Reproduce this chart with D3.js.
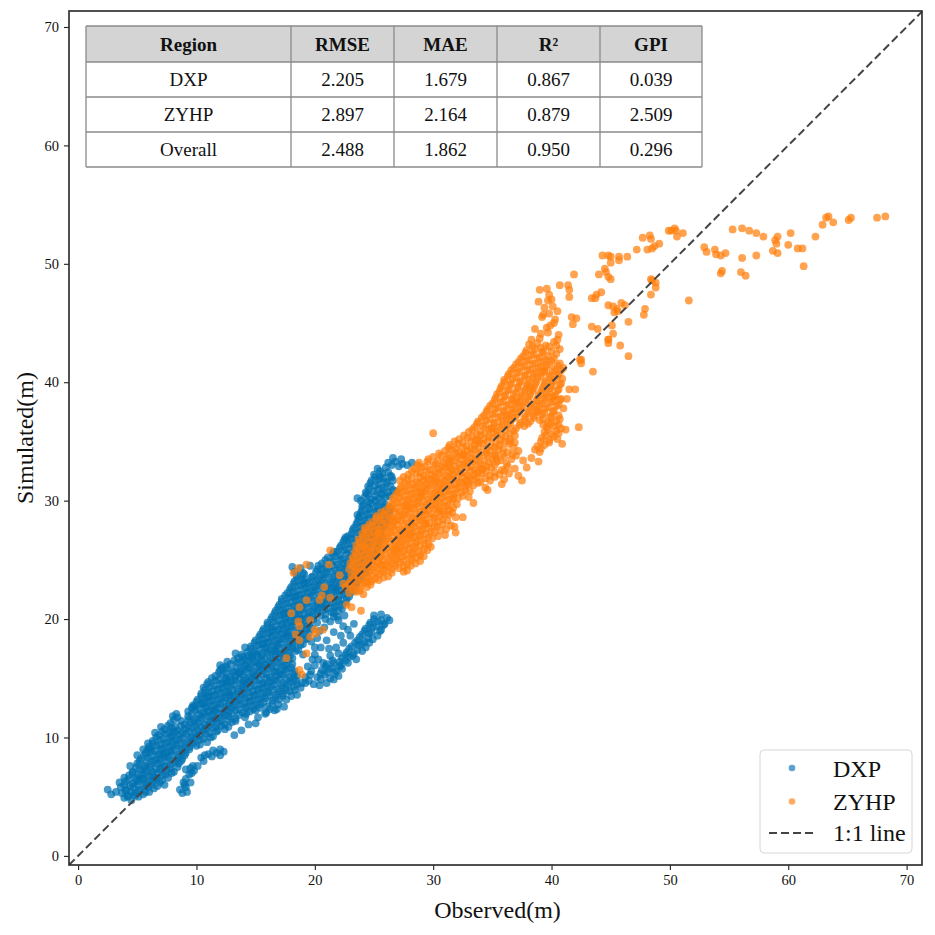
<!DOCTYPE html>
<html lang="en">
<head>
<meta charset="utf-8">
<script src="https://d3js.org/d3.v7.min.js"></script>
<title>Observed vs Simulated</title>
<style>
  body { margin: 0; background: #fff; }
  text { font-family: "Liberation Serif", "Times New Roman", serif; }
</style>
</head>
<body>
<div id="chart"></div>
<script>
// ---- data: [observed, simulated] ----
const dxp = [
  [3.9,4.9],[4.5,4.7],[5.1,5.0],[4.2,5.0],[4.8,5.1],
  [2.8,5.2],[3.7,5.3],[4.2,5.1],[4.8,5.3],[5.5,5.2],[6.0,5.4],[9.2,5.4],
  [3.2,5.4],[4.0,5.5],[4.5,5.4],[5.1,5.5],[5.7,5.4],[8.8,5.3],
  [2.5,5.6],[3.6,5.8],[4.1,5.6],[4.7,5.8],[5.3,5.6],[5.9,5.8],[6.4,5.7],[8.6,5.6],[9.1,5.8],
  [3.9,6.0],[4.4,5.9],[5.0,6.0],[5.6,5.9],[6.2,6.0],[6.7,5.9],[9.0,6.0],
  [4.0,6.3],[4.6,6.1],[5.1,6.3],[5.7,6.1],[6.3,6.3],[6.9,6.2],[7.3,6.0],[8.9,6.2],
  [4.3,6.5],[4.9,6.4],[5.4,6.5],[6.0,6.4],[6.6,6.5],[7.1,6.4],[9.1,6.5],
  [4.3,6.8],[4.9,6.6],[5.4,6.8],[6.0,6.7],[6.5,6.6],[7.1,6.8],[7.6,6.6],[9.4,6.9],
  [4.6,7.0],[5.1,6.9],[5.7,7.0],[6.3,6.9],[6.8,7.0],[7.4,6.9],[7.9,7.0],[9.6,7.0],
  [4.6,7.1],[5.2,7.3],[5.8,7.2],[6.3,7.1],[6.9,7.3],[7.5,7.2],[8.1,7.1],[9.1,7.3],[9.8,7.2],
  [4.9,7.5],[5.5,7.4],[6.1,7.5],[6.6,7.4],[7.2,7.5],[7.8,7.4],[8.4,7.5],[9.5,7.4],
  [5.0,7.8],[5.6,7.6],[6.1,7.7],[6.7,7.8],[7.3,7.6],[7.8,7.7],[8.5,7.8],[10.1,7.6],
  [5.2,8.0],[5.8,7.9],[6.4,8.0],[7.0,7.9],[7.6,8.0],[8.2,7.9],[8.7,8.0],
  [5.3,8.2],[5.9,8.3],[6.5,8.1],[7.0,8.2],[7.6,8.3],[8.2,8.1],[8.8,8.2],[10.4,8.3],
  [5.6,8.5],[6.2,8.4],[6.8,8.5],[7.3,8.4],[7.9,8.5],[8.5,8.4],[9.0,8.5],[10.7,8.5],
  [5.7,8.7],[6.2,8.8],[6.8,8.6],[7.4,8.7],[7.9,8.8],[8.5,8.6],[9.1,8.7],[11.0,8.6],[11.7,8.7],[12.3,8.8],
  [5.9,9.0],[6.5,8.9],[7.1,9.0],[7.7,8.9],[8.2,9.0],[8.8,8.9],[9.4,9.0],[11.4,8.9],[12.0,9.0],
  [6.0,9.2],[6.6,9.3],[7.1,9.1],[7.7,9.2],[8.3,9.3],[8.8,9.1],[9.4,9.2],[10.0,9.3],
  [6.3,9.5],[6.9,9.4],[7.4,9.5],[8.0,9.4],[8.6,9.5],[9.1,9.4],[9.7,9.5],[10.3,9.4],
  [6.3,9.7],[6.9,9.8],[7.5,9.6],[8.0,9.7],[8.6,9.8],[9.2,9.6],[9.7,9.7],[10.3,9.8],[10.9,9.6],
  [6.6,10.0],[7.2,9.9],[7.8,10.0],[8.3,9.9],[8.9,10.0],[9.5,9.9],[10.0,10.0],[10.6,9.9],[11.2,10.0],
  [6.8,10.2],[7.4,10.3],[7.9,10.1],[8.5,10.2],[9.1,10.3],[9.6,10.1],[10.2,10.2],[10.8,10.3],[11.4,10.1],
  [7.1,10.5],[7.7,10.4],[8.2,10.5],[8.8,10.4],[9.4,10.5],[9.9,10.4],[10.5,10.5],[11.1,10.4],[11.7,10.5],
  [7.3,10.7],[7.9,10.8],[8.4,10.6],[9.0,10.7],[9.6,10.8],[10.1,10.6],[10.7,10.7],[11.3,10.8],[11.8,10.6],[12.4,10.7],
  [7.6,11.0],[8.2,10.9],[8.7,11.0],[9.3,10.9],[9.9,11.0],[10.4,10.9],[11.0,11.0],[11.6,10.9],[12.1,11.0],[12.7,10.9],
  [7.8,11.2],[8.4,11.7],[9.0,11.1],[9.5,11.3],[10.1,11.2],[10.7,11.1],[11.2,11.3],[11.8,11.2],[12.4,11.1],[13.0,11.3],
  [8.1,11.5],[8.7,11.4],[9.3,11.5],[9.8,11.4],[10.4,11.5],[11.0,11.4],[11.5,11.5],[12.1,11.4],[12.7,11.5],[13.3,11.4],
  [9.3,11.8],[9.9,11.6],[10.4,11.7],[11.0,11.8],[11.6,11.6],[12.1,11.7],[12.7,11.8],[13.3,11.6],
  [9.6,12.0],[10.2,11.9],[10.7,12.0],[11.3,11.9],[11.9,12.0],[12.4,11.9],[13.0,12.0],[13.6,11.9],[14.2,12.0],
  [9.3,12.2],[9.9,12.3],[10.5,12.1],[11.0,12.2],[11.6,12.3],[12.2,12.1],[12.7,12.2],[13.3,12.3],[13.9,12.1],[14.5,12.2],[15.0,12.3],[15.9,12.1],[16.6,12.3],
  [9.6,12.5],[10.2,12.4],[10.8,12.5],[11.3,12.4],[11.9,12.5],[12.5,12.4],[13.0,12.5],[13.6,12.4],[14.2,12.5],[14.8,12.4],[15.4,12.5],[16.2,12.4],
  [9.7,12.7],[10.3,12.8],[10.8,12.6],[11.4,12.7],[12.0,12.8],[12.5,12.6],[13.1,12.7],[13.7,12.8],[14.2,12.6],[14.8,12.7],[15.4,12.8],[16.0,12.6],[16.9,12.8],
  [10.0,13.0],[10.6,12.9],[11.1,13.0],[11.7,12.9],[12.3,13.0],[12.8,12.9],[13.4,13.0],[14.0,12.9],[14.5,13.0],[15.1,12.9],[15.7,13.0],[16.4,12.9],
  [10.1,13.2],[10.7,13.3],[11.2,13.1],[11.8,13.2],[12.4,13.3],[12.9,13.1],[13.5,13.2],[14.1,13.3],[14.6,13.1],[15.2,13.2],[15.8,13.3],[16.4,13.1],[17.0,13.2],
  [10.4,13.5],[11.0,13.4],[11.5,13.5],[12.1,13.4],[12.7,13.5],[13.2,13.4],[13.8,13.5],[14.4,13.4],[14.9,13.5],[15.5,13.4],[16.1,13.5],[16.7,13.4],[17.3,13.5],
  [10.4,13.7],[11.0,13.8],[11.5,13.6],[12.1,13.7],[12.7,13.8],[13.2,13.6],[13.8,13.7],[14.4,13.8],[14.9,13.6],[15.5,13.7],[16.1,13.8],[16.7,13.6],[17.3,13.7],[17.9,13.9],
  [10.7,14.0],[11.3,13.9],[11.8,14.0],[12.4,13.9],[13.0,14.0],[13.5,13.9],[14.1,14.0],[14.7,13.9],[15.2,14.0],[15.8,13.9],[16.4,14.0],[17.0,13.9],[17.6,14.0],[18.3,14.0],
  [10.6,14.2],[11.2,14.3],[11.8,14.1],[12.3,14.2],[12.9,14.3],[13.5,14.1],[14.0,14.2],[14.6,14.3],[15.2,14.1],[15.7,14.2],[16.3,14.3],[16.9,14.1],[17.5,14.2],[18.2,14.3],[18.8,14.2],
  [10.9,14.5],[11.5,14.4],[12.1,14.5],[12.6,14.4],[13.2,14.5],[13.8,14.4],[14.3,14.5],[14.9,14.4],[15.5,14.5],[16.0,14.4],[16.6,14.5],[17.2,14.4],[17.8,14.5],[18.5,14.5],
  [11.0,14.7],[11.6,14.8],[12.2,14.6],[12.7,14.7],[13.3,14.8],[13.9,14.6],[14.4,14.7],[15.0,14.8],[15.6,14.6],[16.1,14.7],[16.7,14.8],[17.3,14.6],[17.9,14.7],[18.4,14.8],
  [11.3,15.0],[11.9,14.9],[12.5,15.0],[13.0,14.9],[13.6,15.0],[14.2,14.9],[14.7,15.0],[15.3,14.9],[15.9,15.0],[16.4,14.9],[17.0,15.0],[17.6,14.9],[18.2,15.0],[20.5,14.9],[21.6,14.9],
  [11.6,15.2],[12.2,15.3],[12.8,15.1],[13.3,15.2],[13.9,15.3],[14.5,15.1],[15.0,15.2],[15.6,15.3],[16.2,15.1],[16.8,15.2],[17.3,15.3],[17.9,15.1],[18.5,15.2],[20.2,15.1],[20.8,15.3],[21.3,15.0],[22.0,15.2],
  [11.9,15.5],[12.5,15.4],[13.1,15.5],[13.6,15.4],[14.2,15.5],[14.8,15.4],[15.3,15.5],[15.9,15.4],[16.5,15.5],[17.1,15.4],[17.6,15.5],[18.2,15.4],[20.5,15.4],[21.1,15.5],[21.7,15.4],
  [12.0,15.7],[12.2,15.9],[12.6,15.8],[13.1,15.6],[13.7,15.7],[14.3,15.8],[14.8,15.6],[15.4,15.7],[16.0,15.8],[16.6,15.6],[17.1,15.7],[17.7,15.8],[18.3,15.6],[20.6,15.7],[21.2,15.8],[21.8,15.6],[22.3,15.8],
  [12.5,16.0],[13.4,15.9],[14.0,16.0],[14.5,15.9],[15.1,16.0],[15.7,15.9],[16.3,16.0],[16.8,15.9],[17.4,16.0],[18.0,15.9],[20.9,16.0],[21.5,15.9],[22.1,16.0],
  [12.9,16.2],[13.5,16.3],[14.1,16.1],[14.6,16.2],[15.2,16.3],[15.8,16.1],[16.3,16.2],[16.9,16.3],[17.5,16.1],[18.1,16.2],[21.0,16.2],[21.6,16.3],[22.2,16.1],[22.8,16.3],
  [13.2,16.5],[13.8,16.4],[14.4,16.5],[14.9,16.4],[15.5,16.5],[16.1,16.4],[16.6,16.5],[17.2,16.4],[17.8,16.5],[21.5,16.5],[22.1,16.4],[22.6,16.5],
  [13.5,16.7],[13.9,16.8],[14.1,16.6],[14.7,16.7],[15.2,16.8],[15.8,16.6],[16.4,16.7],[17.0,16.8],[17.6,16.6],[18.1,16.7],[22.3,16.7],[22.9,16.8],[23.5,16.6],
  [13.8,17.0],[14.4,16.9],[15.0,17.0],[15.5,16.9],[16.1,17.0],[16.7,16.9],[17.3,17.0],[17.9,16.9],[22.6,17.0],[23.2,16.9],
  [14.3,17.2],[14.9,17.3],[15.5,17.1],[16.0,17.2],[16.6,17.3],[17.2,17.1],[17.8,17.2],[18.4,17.3],[22.7,17.2],[23.3,17.1],[24.0,17.3],
  [14.6,17.5],[15.2,17.4],[15.8,17.5],[16.3,17.4],[16.9,17.5],[17.5,17.4],[18.1,17.5],[18.6,17.4],[22.9,17.5],[23.6,17.4],
  [14.6,17.7],[15.2,17.8],[15.8,17.6],[16.4,17.7],[16.9,17.8],[17.5,17.6],[18.1,17.7],[18.8,17.8],[23.1,17.7],[23.7,17.8],[24.3,17.6],
  [14.9,18.0],[15.5,17.9],[16.1,18.0],[16.7,17.9],[17.2,18.0],[17.8,17.9],[18.4,18.0],[19.0,17.9],[23.4,18.0],[24.0,17.9],[24.6,18.0],
  [15.0,18.2],[15.6,18.3],[16.1,18.1],[16.7,18.2],[17.3,18.3],[17.9,18.1],[18.5,18.2],[19.2,18.3],[23.6,18.2],[24.2,18.1],[24.9,18.3],
  [15.3,18.5],[15.9,18.4],[16.4,18.5],[17.0,18.4],[17.6,18.5],[18.2,18.4],[18.8,18.5],[19.4,18.4],[23.8,18.5],[24.5,18.4],
  [15.4,18.7],[16.0,18.8],[16.5,18.6],[17.1,18.7],[17.7,18.8],[18.3,18.6],[18.9,18.7],[19.5,18.8],[24.0,18.7],[24.6,18.8],[25.3,18.6],
  [15.6,19.0],[16.2,18.9],[16.8,19.0],[17.4,18.9],[18.0,19.0],[18.6,18.9],[19.2,19.0],[24.2,19.0],[24.8,18.9],[25.5,19.0],
  [15.7,19.2],[16.3,19.3],[16.9,19.1],[17.4,19.2],[18.0,19.3],[18.6,19.1],[19.3,19.2],[24.3,19.2],[24.9,19.3],[25.6,19.1],
  [16.0,19.5],[16.6,19.4],[17.2,19.5],[17.7,19.4],[18.3,19.5],[18.9,19.4],[19.5,19.5],[24.6,19.5],[25.2,19.4],[25.8,19.5],
  [16.0,19.7],[16.6,19.8],[17.2,19.6],[17.7,19.7],[18.3,19.8],[18.9,19.6],[19.6,19.7],[24.7,19.7],[25.3,19.8],[25.9,19.6],[26.3,19.9],
  [16.3,20.0],[16.9,19.9],[17.5,20.0],[18.0,19.9],[18.6,20.0],[19.2,19.9],[19.9,20.0],[25.0,20.0],[25.6,19.9],
  [16.4,20.2],[17.0,20.3],[17.5,20.1],[18.1,20.2],[18.7,20.3],[19.3,20.1],[19.8,20.2],[20.5,20.3],[25.0,20.3],[25.6,20.4],[26.1,20.1],
  [16.6,20.5],[17.2,20.4],[17.8,20.5],[18.4,20.4],[19.0,20.5],[19.5,20.4],[20.2,20.5],[20.9,20.4],[21.6,20.5],
  [16.7,20.7],[17.3,20.8],[17.8,20.6],[18.4,20.7],[19.0,20.8],[19.6,20.6],[20.2,20.7],[20.8,20.8],[21.4,20.6],[22.0,20.7],
  [16.9,21.0],[17.5,20.9],[18.1,21.0],[18.7,20.9],[19.3,21.0],[19.9,20.9],[20.5,21.0],[21.1,20.9],[21.7,21.0],[22.3,20.9],
  [17.0,21.2],[17.6,21.3],[18.2,21.1],[18.7,21.2],[19.3,21.3],[19.9,21.1],[20.5,21.2],[21.1,21.3],[21.7,21.1],[22.3,21.2],
  [17.2,21.5],[17.8,21.4],[18.4,21.5],[19.0,21.4],[19.6,21.5],[20.2,21.4],[20.8,21.5],[21.4,21.4],[22.0,21.5],[22.6,21.4],
  [17.2,21.7],[17.8,21.8],[18.4,21.6],[19.0,21.7],[19.6,21.8],[20.2,21.6],[20.8,21.7],[21.4,21.8],[22.0,21.6],[22.7,21.7],
  [17.5,22.0],[18.1,21.9],[18.7,22.0],[19.3,21.9],[19.9,22.0],[20.5,21.9],[21.1,22.0],[21.7,21.9],[22.3,22.0],[22.9,21.9],
  [17.7,22.2],[18.2,22.3],[18.8,22.1],[19.4,22.2],[20.0,22.3],[20.6,22.1],[21.2,22.2],[21.8,22.3],[22.4,22.1],[23.0,22.2],
  [17.9,22.5],[18.5,22.4],[19.1,22.5],[19.7,22.4],[20.3,22.5],[20.9,22.4],[21.5,22.5],[22.1,22.4],[22.7,22.5],[23.3,22.4],
  [18.0,22.7],[18.6,22.8],[19.2,22.6],[19.8,22.7],[20.4,22.8],[20.9,22.6],[21.5,22.7],[22.1,22.8],[22.7,22.6],[23.3,22.7],
  [18.2,23.0],[18.8,22.9],[19.4,23.0],[20.0,22.9],[20.6,23.0],[21.2,22.9],[21.8,23.0],[22.4,22.9],[23.0,23.0],[23.5,22.9],
  [18.3,23.2],[18.9,23.3],[19.5,23.1],[20.1,23.2],[20.7,23.3],[21.3,23.1],[21.9,23.2],[22.5,23.3],[23.1,23.1],[23.6,23.2],
  [18.5,23.5],[19.1,23.4],[19.7,23.5],[20.3,23.4],[20.9,23.5],[21.5,23.4],[22.1,23.5],[22.7,23.4],[23.3,23.5],[23.9,23.4],
  [18.5,23.7],[19.1,23.8],[19.8,23.6],[20.4,23.7],[21.0,23.8],[21.6,23.6],[22.2,23.7],[22.8,23.8],[23.4,23.6],[24.0,23.7],
  [18.3,24.0],[19.0,23.9],[20.1,24.0],[20.7,23.9],[21.3,24.0],[21.9,23.9],[22.5,24.0],[23.1,23.9],[23.7,24.0],[24.3,23.9],
  [18.1,24.4],[18.8,24.3],[19.6,24.5],[20.6,24.2],[21.2,24.3],[21.8,24.1],[22.4,24.2],[23.0,24.3],[23.6,24.1],[24.2,24.2],
  [20.3,24.5],[20.9,24.4],[21.5,24.5],[22.1,24.4],[22.7,24.5],[23.3,24.4],[23.9,24.5],[24.5,24.4],
  [20.6,24.7],[21.3,24.8],[21.9,24.6],[22.5,24.7],[23.1,24.8],[23.7,24.6],[24.4,24.7],
  [20.9,25.0],[21.6,24.9],[22.2,25.0],[22.8,24.9],[23.4,25.0],[24.0,24.9],[24.7,25.0],
  [21.1,25.2],[21.7,25.3],[22.3,25.1],[22.9,25.2],[23.5,25.3],[24.1,25.1],[24.8,25.2],
  [21.5,25.5],[22.1,25.4],[22.7,25.5],[23.3,25.4],[23.9,25.5],[24.5,25.4],[25.1,25.5],
  [21.9,25.7],[22.5,25.8],[23.1,25.6],[23.7,25.7],[24.3,25.8],[25.0,25.6],
  [22.1,26.0],[22.7,25.9],[23.3,26.0],[23.9,25.9],[24.5,26.0],[25.2,25.9],
  [22.2,26.2],[22.8,26.3],[23.4,26.1],[24.0,26.2],[24.6,26.3],[25.3,26.1],
  [22.4,26.5],[23.0,26.4],[23.6,26.5],[24.2,26.4],[24.8,26.5],[25.4,26.4],
  [22.5,26.7],[23.1,26.8],[23.7,26.6],[24.3,26.7],[24.9,26.8],[25.5,26.6],
  [22.8,27.0],[23.4,26.9],[24.0,27.0],[24.6,26.9],[25.2,27.0],[25.7,26.9],
  [23.1,27.2],[23.7,27.3],[24.3,27.1],[24.9,27.2],[25.5,27.3],
  [23.2,27.5],[23.8,27.4],[24.4,27.5],[25.0,27.4],[25.6,27.5],
  [23.3,27.7],[23.9,27.8],[24.5,27.6],[25.1,27.7],[25.8,27.8],
  [23.5,28.0],[24.1,27.9],[24.7,28.0],[25.3,27.9],[25.9,28.0],
  [23.6,28.2],[24.2,28.3],[24.8,28.1],[25.4,28.2],[26.1,28.3],
  [23.7,28.5],[24.3,28.4],[24.9,28.5],[25.5,28.4],[26.1,28.5],
  [23.8,28.7],[24.4,28.8],[25.0,28.6],[25.6,28.7],[26.2,28.8],
  [23.9,29.0],[24.5,28.9],[25.1,29.0],[25.7,28.9],[26.3,29.0],
  [24.0,29.2],[24.6,29.3],[25.2,29.1],[25.8,29.2],[26.4,29.3],
  [24.0,29.5],[24.6,29.4],[25.2,29.5],[25.8,29.4],[26.3,29.5],
  [24.1,29.7],[24.7,29.8],[25.3,29.6],[25.9,29.7],
  [23.9,30.0],[24.5,29.9],[25.1,30.0],[25.7,29.9],
  [23.6,30.2],[24.2,30.3],[24.8,30.1],[25.4,30.2],[26.0,30.3],
  [24.5,30.5],[25.1,30.4],[25.7,30.5],[26.3,30.4],
  [24.3,30.7],[25.0,30.8],[25.6,30.6],[26.2,30.7],[26.9,30.8],
  [24.6,31.0],[25.3,30.9],[25.9,31.0],[26.6,30.9],
  [24.5,31.2],[25.1,31.3],[25.7,31.1],[26.4,31.2],
  [24.7,31.5],[25.4,31.4],[26.1,31.5],
  [24.8,31.7],[25.4,31.8],[26.0,31.6],[26.6,31.7],
  [25.1,32.0],[25.8,31.9],[26.5,32.0],
  [25.0,32.2],[25.7,32.3],[26.4,32.1],
  [25.5,32.5],[26.2,32.4],
  [25.3,32.7],[26.0,32.8],
  [26.5,33.0],[27.1,32.9],[27.8,33.0],
  [26.2,33.2],[26.8,33.3],[27.4,33.1],[28.2,33.2],
  [26.6,33.6],[27.3,33.5],
  // irregular fill and outer edge
  [5.5,6.5],[7.2,8.6],[6.1,9.0],[8.0,10.5],[9.8,12.6],[10.9,13.5],[12.5,14.8],[13.7,15.5],[14.7,16.9],[15.6,17.9],
  [16.4,19.1],[17.4,20.5],[18.3,21.9],[19.1,23.1],[20.2,24.2],[21.6,25.7],[22.6,26.9],[23.6,28.8],[24.4,30.6],[25.5,32.0],
  [11.5,12.2],[12.8,13.6],[14.0,14.8],[15.3,16.1],[16.7,17.3],[17.7,18.6],[18.8,20.0],[20.6,21.3],[21.8,22.5],[22.9,23.6],
  [8.3,12.0],[8.0,11.8],[12.0,16.1],[12.6,16.4],[13.3,17.1],[14.1,17.6],[10.5,12.9],[7.0,10.9],[6.5,10.4],[5.9,9.5],
  [5.5,9.0],[5.0,8.5],[4.4,7.6],[3.9,6.6],[3.5,6.2],[9.5,6.2],[9.7,7.6],[10.6,8.0],[11.3,8.4],[12.0,8.5],
  [13.2,10.2],[13.8,10.6],[14.4,11.1],[15.0,11.2],[15.2,11.7],[14.1,11.7],[15.8,12.0],[16.8,12.4],[17.4,12.6],[17.6,13.2],
  [18.0,13.5],[18.5,13.6],[18.9,14.6],[19.2,15.1],[19.5,14.8],[19.2,14.6],[19.6,15.3],[19.4,16.0],[19.8,16.6],[19.0,17.0],
  [20.0,17.6],[19.7,18.1],[19.9,14.5],[20.4,14.4],[21.0,14.6],[19.7,15.6],[20.0,16.1],[20.3,16.6],[20.7,16.3],[21.3,16.9],
  [22.0,17.1],[21.8,17.6],[22.4,18.0],[22.2,18.6],[22.8,19.1],[23.0,18.6],[23.3,19.6],[22.4,19.4],[22.0,19.9],[21.6,18.9],
  [21.0,18.2],[20.5,17.6],[20.2,18.4],[20.8,19.3],[21.3,19.8],[21.9,20.2],[22.5,20.3],[20.4,19.0],[21.2,17.5],[20.0,17.0],
  [19.8,19.2],[20.2,19.7],[20.9,20.0],[21.6,20.2]
];

const zyhp = [
  // scattered inside the DXP cloud
  [18.2,23.9],[18.6,24.3],[19.3,24.6],[21.3,25.8],[21.2,24.6],[22.1,23.7],[20.8,22.7],[22.4,23.0],
  [20.6,22.0],[19.3,21.6],[20.4,21.6],[21.3,21.8],[22.7,21.2],[23.1,21.0],[23.9,20.7],[18.7,21.0],
  [18.0,20.5],[19.6,19.9],[18.6,19.8],[18.7,19.4],[20.0,19.1],[20.7,19.1],[20.1,18.8],[19.6,18.5],
  [18.7,18.2],[18.4,18.7],[19.3,17.1],[17.6,16.7],[18.7,15.7],[18.9,15.3],
  // main body
  [22.9,22.2],[23.5,22.3],[24.1,22.1],
  [23.2,22.5],[23.8,22.4],
  [22.6,22.7],[23.2,22.8],[23.8,22.6],[24.4,22.7],
  [22.9,23.0],[23.5,22.9],[24.1,23.0],[24.7,22.9],
  [23.0,23.2],[23.6,23.3],[24.2,23.1],[24.8,23.2],[25.4,23.3],
  [23.3,23.5],[23.9,23.4],[24.5,23.5],[25.1,23.4],[25.8,23.5],
  [23.1,23.7],[23.7,23.8],[24.3,23.6],[24.9,23.7],[25.5,23.8],[26.2,23.6],
  [23.4,24.0],[24.0,23.9],[24.6,24.0],[25.2,23.9],[25.8,24.0],[26.5,23.9],
  [22.9,24.2],[23.5,24.3],[24.1,24.1],[24.7,24.2],[25.3,24.3],[25.9,24.1],[26.5,24.2],[27.1,24.3],[27.8,24.1],
  [23.2,24.5],[23.8,24.4],[24.4,24.5],[25.0,24.4],[25.6,24.5],[26.2,24.4],[26.8,24.5],[27.5,24.4],[28.1,24.5],
  [23.0,24.7],[23.6,24.8],[24.2,24.6],[24.8,24.7],[25.4,24.8],[26.0,24.6],[26.6,24.7],[27.2,24.8],[27.8,24.6],[28.5,24.7],
  [23.3,25.0],[23.9,24.9],[24.5,25.0],[25.1,24.9],[25.7,25.0],[26.3,24.9],[26.9,25.0],[27.5,24.9],[28.2,25.0],[28.9,24.9],
  [23.2,25.2],[23.8,25.3],[24.4,25.1],[25.0,25.2],[25.6,25.3],[26.2,25.1],[26.8,25.2],[27.4,25.3],[28.0,25.1],[28.6,25.2],[29.2,25.3],
  [23.5,25.5],[24.1,25.4],[24.7,25.5],[25.3,25.4],[25.9,25.5],[26.5,25.4],[27.1,25.5],[27.7,25.4],[28.3,25.5],[28.9,25.4],
  [23.4,25.7],[24.0,25.8],[24.6,25.6],[25.2,25.7],[25.8,25.8],[26.4,25.6],[27.0,25.7],[27.6,25.8],[28.2,25.6],[28.8,25.7],[29.5,25.8],
  [23.7,26.0],[24.3,25.9],[24.9,26.0],[25.5,25.9],[26.1,26.0],[26.7,25.9],[27.3,26.0],[27.9,25.9],[28.5,26.0],[29.2,25.9],
  [23.5,26.2],[24.1,26.3],[24.7,26.1],[25.3,26.2],[25.9,26.3],[26.5,26.1],[27.1,26.2],[27.7,26.3],[28.3,26.1],[28.9,26.2],[29.6,26.3],
  [23.8,26.5],[24.4,26.4],[25.0,26.5],[25.6,26.4],[26.2,26.5],[26.8,26.4],[27.4,26.5],[28.0,26.4],[28.6,26.5],[29.3,26.4],
  [23.7,26.7],[24.4,26.8],[25.0,26.6],[25.6,26.7],[26.2,26.8],[26.8,26.6],[27.4,26.7],[28.0,26.8],[28.6,26.6],[29.2,26.7],[29.9,26.8],
  [24.1,27.0],[24.7,26.9],[25.3,27.0],[25.9,26.9],[26.5,27.0],[27.1,26.9],[27.7,27.0],[28.3,26.9],[28.9,27.0],[29.6,26.9],[30.4,27.0],
  [24.0,27.2],[24.6,27.3],[25.2,27.1],[25.8,27.2],[26.4,27.3],[27.0,27.1],[27.6,27.2],[28.2,27.3],[28.8,27.1],[29.4,27.2],[30.1,27.3],[31.0,27.1],
  [24.3,27.5],[24.9,27.4],[25.5,27.5],[26.1,27.4],[26.7,27.5],[27.3,27.4],[27.9,27.5],[28.5,27.4],[29.1,27.5],[29.8,27.4],[30.6,27.5],
  [24.2,27.7],[24.8,27.8],[25.4,27.6],[26.0,27.7],[26.6,27.8],[27.2,27.6],[27.8,27.7],[28.4,27.8],[29.0,27.6],[29.6,27.7],[30.3,27.8],[31.1,27.6],[31.8,27.8],
  [24.6,28.0],[25.2,27.9],[25.8,28.0],[26.4,27.9],[27.0,28.0],[27.6,27.9],[28.2,28.0],[28.8,27.9],[29.4,28.0],[30.1,27.9],[30.8,28.0],[31.5,27.9],
  [24.9,28.2],[25.5,28.3],[26.1,28.1],[26.7,28.2],[27.3,28.3],[27.9,28.1],[28.5,28.2],[29.1,28.3],[29.7,28.1],[30.4,28.2],[31.2,28.3],
  [25.2,28.5],[25.8,28.4],[26.4,28.5],[27.0,28.4],[27.6,28.5],[28.2,28.4],[28.8,28.5],[29.4,28.4],[30.1,28.5],[30.8,28.4],
  [25.2,28.7],[25.8,28.8],[26.4,28.6],[27.0,28.7],[27.6,28.8],[28.2,28.6],[28.8,28.7],[29.4,28.8],[30.0,28.6],[30.6,28.7],[31.3,28.8],[31.9,28.6],
  [25.6,29.0],[26.2,28.9],[26.8,29.0],[27.4,28.9],[28.0,29.0],[28.6,28.9],[29.2,29.0],[29.8,28.9],[30.4,29.0],[31.0,28.9],[31.6,29.0],
  [26.0,29.2],[26.6,29.3],[27.2,29.1],[27.8,29.2],[28.4,29.3],[29.0,29.1],[29.6,29.2],[30.2,29.3],[30.8,29.1],[31.4,29.2],
  [26.3,29.5],[26.9,29.4],[27.5,29.5],[28.1,29.4],[28.7,29.5],[29.3,29.4],[29.9,29.5],[30.5,29.4],[31.1,29.5],[31.7,29.4],
  [26.4,29.7],[27.0,29.8],[27.6,29.6],[28.2,29.7],[28.8,29.8],[29.4,29.6],[30.0,29.7],[30.6,29.8],[31.2,29.6],[32.0,29.7],
  [26.7,30.0],[27.3,29.9],[27.9,30.0],[28.5,29.9],[29.1,30.0],[29.7,29.9],[30.3,30.0],[30.9,29.9],[31.6,30.0],
  [26.6,30.2],[27.2,30.3],[27.8,30.1],[28.4,30.2],[29.0,30.3],[29.6,30.1],[30.2,30.2],[30.8,30.3],[31.4,30.1],[32.1,30.2],[33.0,30.3],
  [26.9,30.5],[27.5,30.4],[28.1,30.5],[28.7,30.4],[29.3,30.5],[29.9,30.4],[30.5,30.5],[31.1,30.4],[31.7,30.5],[32.5,30.4],
  [27.0,30.7],[27.6,30.8],[28.2,30.6],[28.8,30.7],[29.4,30.8],[30.0,30.6],[30.6,30.7],[31.2,30.8],[31.8,30.6],[32.4,30.7],[33.1,30.8],
  [27.2,31.0],[27.8,30.9],[28.4,31.0],[29.0,30.9],[29.6,31.0],[30.2,30.9],[30.8,31.0],[31.4,30.9],[32.0,31.0],[32.7,30.9],
  [27.3,31.2],[27.9,31.3],[28.5,31.1],[29.1,31.2],[29.7,31.3],[30.3,31.1],[30.9,31.2],[31.5,31.3],[32.1,31.1],[32.7,31.2],[33.4,31.3],[34.4,31.1],
  [27.6,31.5],[28.2,31.4],[28.8,31.5],[29.4,31.4],[30.0,31.5],[30.6,31.4],[31.2,31.5],[31.8,31.4],[32.4,31.5],[33.0,31.4],[33.8,31.5],
  [27.2,31.7],[27.8,31.8],[28.6,31.6],[29.2,31.7],[29.8,31.8],[30.4,31.6],[31.0,31.7],[31.6,31.8],[32.2,31.6],[32.8,31.7],[33.4,31.8],[34.0,31.6],[34.8,31.7],[36.0,31.8],[37.5,31.7],
  [27.5,32.0],[28.2,31.9],[28.9,32.0],[29.5,31.9],[30.1,32.0],[30.7,31.9],[31.3,32.0],[31.9,31.9],[32.5,32.0],[33.1,31.9],[33.7,32.0],[34.4,31.9],[35.2,32.0],
  [27.9,32.2],[28.6,32.3],[29.2,32.1],[29.9,32.2],[30.5,32.3],[31.1,32.1],[31.7,32.2],[32.3,32.3],[32.9,32.1],[33.5,32.2],[34.1,32.3],[34.8,32.1],[35.6,32.2],[36.4,32.3],[37.2,32.1],
  [28.2,32.5],[28.9,32.4],[29.5,32.5],[30.2,32.4],[30.8,32.5],[31.4,32.4],[32.0,32.5],[32.6,32.4],[33.2,32.5],[33.8,32.4],[34.5,32.5],[35.2,32.4],[36.0,32.5],
  [28.4,32.7],[29.0,32.8],[29.7,32.6],[30.4,32.7],[31.0,32.8],[31.6,32.6],[32.3,32.7],[32.9,32.8],[33.5,32.6],[34.2,32.7],[34.9,32.8],[35.8,32.6],[36.9,32.7],
  [28.7,33.0],[29.3,32.9],[30.0,33.0],[30.7,32.9],[31.3,33.0],[31.9,32.9],[32.6,33.0],[33.2,32.9],[33.8,33.0],[34.5,32.9],[35.2,33.0],[36.3,32.9],
  [28.8,33.2],[29.5,33.3],[30.2,33.1],[30.9,33.2],[31.5,33.3],[32.2,33.1],[32.8,33.2],[33.4,33.3],[34.0,33.1],[34.7,33.2],[35.4,33.3],[36.2,33.1],[37.6,33.4],
  [29.6,33.5],[30.4,33.4],[31.1,33.5],[31.7,33.4],[32.3,33.5],[32.9,33.4],[33.6,33.5],[34.3,33.4],[35.0,33.5],[35.7,33.4],[36.6,33.5],
  [30.0,33.7],[30.7,33.8],[31.4,33.6],[32.0,33.7],[32.6,33.8],[33.2,33.6],[33.9,33.7],[34.6,33.8],[35.3,33.6],[36.0,33.7],[37.0,33.8],[38.3,33.6],
  [30.5,34.0],[31.3,33.9],[31.9,34.0],[32.5,33.9],[33.2,34.0],[33.8,33.9],[34.5,34.0],[35.2,33.9],[35.9,34.0],[36.7,33.9],
  [31.0,34.2],[31.6,34.3],[32.2,34.1],[32.9,34.2],[33.5,34.3],[34.1,34.1],[34.8,34.2],[35.5,34.3],[36.3,34.1],[37.2,34.2],[38.6,34.3],[39.0,34.1],
  [31.3,34.5],[31.9,34.4],[32.5,34.5],[33.2,34.4],[33.8,34.5],[34.5,34.4],[35.2,34.5],[35.9,34.4],[36.8,34.5],[39.1,34.4],
  [31.4,34.7],[32.1,34.8],[32.8,34.6],[33.5,34.7],[34.2,34.8],[34.9,34.6],[35.6,34.7],[36.4,34.8],[38.8,34.6],[39.4,34.7],
  [31.8,35.0],[32.5,34.9],[33.2,35.0],[33.9,34.9],[34.6,35.0],[35.3,34.9],[36.0,35.0],[36.9,34.9],[39.1,35.0],[39.8,34.9],
  [32.2,35.2],[32.9,35.3],[33.6,35.1],[34.3,35.2],[35.0,35.3],[35.7,35.1],[36.5,35.2],[39.2,35.3],[39.8,35.1],[40.5,35.2],
  [32.6,35.5],[33.3,35.4],[34.0,35.5],[34.7,35.4],[35.4,35.5],[36.1,35.4],[36.9,35.5],[39.5,35.5],[40.2,35.4],
  [30.0,35.7],[33.0,35.8],[33.7,35.6],[34.4,35.7],[35.1,35.8],[35.8,35.6],[36.5,35.7],[39.4,35.8],[40.0,35.6],[40.6,35.7],
  [33.3,36.0],[34.0,35.9],[34.7,36.0],[35.4,35.9],[36.1,36.0],[36.8,35.9],[39.7,36.0],[40.4,35.9],
  [33.5,36.2],[34.2,36.3],[34.9,36.1],[35.6,36.2],[36.3,36.3],[37.0,36.1],[39.6,36.2],[40.2,36.3],[40.8,36.1],[42.3,36.2],
  [33.7,36.5],[34.4,36.4],[35.1,36.5],[35.8,36.4],[36.5,36.5],[37.3,36.4],[38.0,36.5],[39.3,36.4],[39.9,36.5],[40.6,36.4],
  [33.8,36.7],[34.5,36.8],[35.2,36.6],[35.9,36.7],[36.6,36.8],[37.4,36.6],[38.2,36.7],[39.0,36.8],[39.7,36.6],[40.4,36.7],
  [34.1,37.0],[34.8,36.9],[35.5,37.0],[36.2,36.9],[36.9,37.0],[37.7,36.9],[38.5,37.0],[39.3,36.9],[40.0,37.0],[40.7,36.9],
  [34.3,37.2],[35.0,37.3],[35.7,37.1],[36.4,37.2],[37.1,37.3],[37.8,37.1],[38.5,37.2],[39.2,37.3],[39.9,37.1],[40.6,37.2],
  [34.5,37.5],[35.2,37.4],[35.9,37.5],[36.6,37.4],[37.3,37.5],[38.0,37.4],[38.7,37.5],[39.4,37.4],[40.1,37.5],
  [34.6,37.7],[35.3,37.8],[36.0,37.6],[36.7,37.7],[37.4,37.8],[38.1,37.6],[38.8,37.7],[39.5,37.8],[40.2,37.6],
  [34.8,38.0],[35.5,37.9],[36.2,38.0],[36.9,37.9],[37.6,38.0],[38.3,37.9],[39.0,38.0],[39.7,37.9],[40.4,38.0],
  [35.0,38.2],[35.7,38.3],[36.4,38.1],[37.1,38.2],[37.8,38.3],[38.5,38.1],[39.2,38.2],[39.9,38.3],[40.6,38.1],
  [35.2,38.5],[35.9,38.4],[36.6,38.5],[37.3,38.4],[38.0,38.5],[38.7,38.4],[39.4,38.5],[40.1,38.4],[40.7,38.5],
  [35.3,38.7],[36.0,38.8],[36.7,38.6],[37.4,38.7],[38.1,38.8],[38.8,38.6],[39.5,38.7],[40.2,38.8],[40.8,38.6],
  [35.4,39.0],[36.1,38.9],[36.8,39.0],[37.5,38.9],[38.2,39.0],[38.9,38.9],[39.6,39.0],[40.3,38.9],
  [35.6,39.2],[36.3,39.3],[37.0,39.1],[37.7,39.2],[38.4,39.3],[39.1,39.1],[39.8,39.2],[40.5,39.3],[41.5,39.4],[42.0,39.4],
  [35.7,39.5],[36.4,39.4],[37.1,39.5],[37.8,39.4],[38.5,39.5],[39.2,39.4],[39.9,39.5],[40.6,39.4],
  [35.8,39.7],[36.5,39.8],[37.2,39.6],[37.9,39.7],[38.6,39.8],[39.3,39.6],[40.0,39.7],[40.7,39.8],
  [36.0,40.0],[36.6,39.9],[37.3,40.0],[38.0,39.9],[38.7,40.0],[39.4,39.9],[40.1,40.0],[40.8,39.9],
  [36.0,40.2],[36.7,40.3],[37.4,40.1],[38.1,40.2],[38.8,40.3],[39.5,40.1],[40.2,40.2],[40.9,40.3],
  [36.3,40.5],[37.0,40.4],[37.7,40.5],[38.4,40.4],[39.1,40.5],[39.8,40.4],[40.5,40.5],
  [36.4,40.7],[37.1,40.8],[37.8,40.6],[38.5,40.7],[39.2,40.8],[39.9,40.6],[40.6,40.7],[43.5,40.9],
  [36.6,41.0],[37.3,40.9],[38.0,41.0],[38.7,40.9],[39.4,41.0],[40.1,40.9],[40.8,41.0],
  [36.8,41.2],[37.5,41.3],[38.2,41.1],[38.9,41.2],[39.6,41.3],[40.3,41.1],[41.0,41.2],
  [37.0,41.5],[37.7,41.4],[38.4,41.5],[39.1,41.4],[39.8,41.5],[40.5,41.4],
  [37.2,41.7],[37.9,41.8],[38.6,41.6],[39.3,41.7],[40.0,41.8],[40.7,41.6],[42.4,41.9],[42.5,41.6],
  [37.4,42.0],[38.1,41.9],[38.8,42.0],[39.5,41.9],[40.2,42.0],
  [37.6,42.2],[38.3,42.3],[39.0,42.1],[39.7,42.2],[40.4,42.4],[46.5,42.2],
  [37.8,42.5],[38.5,42.4],[39.2,42.5],[40.0,42.6],
  [37.9,42.7],[38.6,42.8],[39.3,42.6],[39.8,43.0],[40.7,42.8],
  [38.4,43.0],[39.1,42.9],[40.4,43.1],
  [38.1,43.2],[38.8,43.3],[39.5,43.1],[40.2,43.4],[44.8,43.3],[44.8,43.6],[45.8,43.1],
  [38.3,43.6],[39.0,43.7],[39.7,44.2],[40.5,43.6],
  // irregular fill
  [24.5,23.1],[25.7,24.6],[26.9,25.9],[28.1,27.1],[29.3,28.1],[30.5,29.2],[31.7,30.2],[32.9,31.5],[34.1,32.6],[35.3,33.8],
  [36.5,35.0],[37.7,36.3],[38.9,37.5],[40.1,38.7],[37.0,38.4],[38.2,39.6],[39.4,40.9],[36.2,37.2],[35.0,36.1],[33.8,35.1],
  [32.6,33.9],[31.4,32.8],[30.2,31.7],[29.0,30.6],[27.8,29.5],[26.6,28.4],[25.4,27.3],[24.2,26.1],[27.5,24.0],[29.8,26.1],
  [31.9,27.3],[32.5,28.6],[33.4,29.8],[34.6,30.9],[35.8,31.4],[37.9,32.8],[38.9,33.3],[40.9,34.8],[41.2,36.0],[41.0,37.8],
  [41.3,38.6],[40.6,44.0],[39.1,44.1],[38.6,44.5],[38.9,46.8],[39.0,47.8],[39.6,47.9],
  // upper tail
  [68.2,54.0],[67.5,53.9],[65.3,53.9],[65.1,53.7],[63.4,54.0],[63.2,53.9],[63.8,53.5],[62.9,53.3],
  [62.3,52.3],[60.2,52.6],[60.0,51.6],[60.8,51.3],[61.2,51.3],[61.3,49.8],[59.1,52.3],[58.9,52.0],
  [59.0,51.7],[58.7,51.1],[59.1,50.9],[57.9,52.3],[57.3,52.6],[56.7,52.8],[56.1,53.0],[55.3,52.9],
  [57.3,50.7],[56.1,50.5],[56.0,49.3],[56.4,49.0],[54.3,49.2],[54.4,49.4],[54.7,50.9],[54.3,50.7],
  [53.9,50.8],[53.8,51.2],[53.1,51.0],[52.9,51.4],[51.6,46.9],[51.1,52.6],[50.5,52.8],[50.4,53.0],
  [50.1,52.8],[49.9,52.8],[50.6,52.3],[49.1,51.7],[48.7,51.5],[48.4,52.1],[48.3,52.4],[48.1,51.2],
  [48.5,51.3],[47.7,52.2],[47.2,51.2],[46.4,50.6],[45.7,50.6],[45.7,50.3],[45.0,50.6],[44.8,50.7],
  [44.3,50.7],[45.0,50.1],[44.5,49.6],[44.6,49.3],[44.8,48.9],[45.0,48.7],[44.0,49.1],[41.9,49.1],
  [48.4,48.7],[48.5,48.6],[48.8,48.4],[48.8,48.0],[48.4,47.4],[44.2,47.6],[43.8,47.4],[43.4,47.1],
  [43.7,47.1],[41.4,48.2],[41.5,47.8],[41.5,47.2],[40.7,48.2],[39.8,47.4],[40.0,47.0],[40.1,46.4],
  [39.8,45.8],[40.3,45.3],[39.4,46.3],[39.3,45.7],[39.2,45.5],[44.8,46.5],[45.2,46.4],[45.5,46.2],
  [45.9,46.7],[46.2,46.5],[45.6,46.0],[45.3,45.9],[46.5,45.1],[47.9,46.2],[47.8,45.7],[41.7,45.5],
  [42.1,45.4],[41.8,44.9],[43.4,44.7],[43.9,44.5],[45.1,44.8],[45.2,44.1],[44.8,43.6],[42.5,41.9],
  [39.9,44.8],[40.2,45.0],[39.6,44.6],[40.5,46.0],[39.7,46.9]
];

const seriesNames = ["DXP", "ZYHP"];
const seriesColors = ["#0072b2", "#ff7f0e"];
const axisTicks = [0, 10, 20, 30, 40, 50, 60, 70];

const tableHead = ["Region", "RMSE", "MAE", "R\u00b2", "GPI"];
const tableRows = [
  ["DXP", "2.205", "1.679", "0.867", "0.039"],
  ["ZYHP", "2.897", "2.164", "0.879", "2.509"],
  ["Overall", "2.488", "1.862", "0.950", "0.296"]
];

// ---- layout ----
const W = 935, H = 935;
const plot = { left: 69, top: 11, right: 922, bottom: 865 };

const svg = d3.select("#chart").append("svg")
  .attr("width", W).attr("height", H);
svg.append("rect").attr("width", W).attr("height", H).attr("fill", "#fff");

const x = d3.scaleLinear().domain([-0.77, 71.3]).range([plot.left, plot.right]);
const y = d3.scaleLinear().domain([-0.77, 71.35]).range([plot.bottom, plot.top]);

svg.append("clipPath").attr("id", "clip")
  .append("rect")
  .attr("x", plot.left).attr("y", plot.top)
  .attr("width", plot.right - plot.left).attr("height", plot.bottom - plot.top);

// axes
const xAxis = svg.append("g")
  .attr("transform", `translate(0,${plot.bottom})`)
  .call(d3.axisBottom(x).tickValues(axisTicks).tickSize(5).tickPadding(5));
const yAxis = svg.append("g")
  .attr("transform", `translate(${plot.left},0)`)
  .call(d3.axisLeft(y).tickValues(axisTicks).tickSize(5).tickPadding(5));
[xAxis, yAxis].forEach(g => {
  g.select(".domain").remove();
  g.selectAll(".tick line").attr("stroke", "#222").attr("stroke-width", 1.1);
  g.selectAll(".tick text")
    .attr("font-family", "'Liberation Serif', 'Times New Roman', serif")
    .attr("font-size", 14.5).attr("fill", "#111");
});

// points: DXP first, ZYHP drawn on top
const pts = svg.append("g").attr("clip-path", "url(#clip)");
[dxp, zyhp].forEach((data, i) => {
  pts.append("g").selectAll("circle")
    .data(data)
    .join("circle")
    .attr("cx", d => x(d[0]))
    .attr("cy", d => y(d[1]))
    .attr("r", 3.9)
    .attr("fill", seriesColors[i])
    .attr("fill-opacity", 0.72);
});

// 1:1 line
pts.append("line")
  .attr("x1", x(-0.77)).attr("y1", y(-0.77))
  .attr("x2", x(71.35)).attr("y2", y(71.35))
  .attr("stroke", "#444").attr("stroke-width", 2)
  .attr("stroke-dasharray", "8,4");

// frame
svg.append("rect")
  .attr("x", plot.left).attr("y", plot.top)
  .attr("width", plot.right - plot.left).attr("height", plot.bottom - plot.top)
  .attr("fill", "none").attr("stroke", "#262626").attr("stroke-width", 1.6);

// axis titles
svg.append("text")
  .attr("x", (plot.left + plot.right) / 2 + 2).attr("y", 918)
  .attr("text-anchor", "middle").attr("font-size", 24).attr("fill", "#111")
  .text("Observed(m)");
svg.append("text")
  .attr("transform", `translate(33,${(plot.top + plot.bottom) / 2}) rotate(-90)`)
  .attr("text-anchor", "middle").attr("font-size", 24).attr("fill", "#111")
  .text("Simulated(m)");

// metrics table
const colEdges = [86, 291, 394, 497, 600, 702];
const rowEdges = [26, 62, 97, 132, 167];
const tbl = svg.append("g");
tbl.append("rect")
  .attr("x", colEdges[0]).attr("y", rowEdges[0])
  .attr("width", colEdges[5] - colEdges[0]).attr("height", rowEdges[1] - rowEdges[0])
  .attr("fill", "#d4d4d4");
rowEdges.forEach(r => tbl.append("line")
  .attr("x1", colEdges[0]).attr("x2", colEdges[5]).attr("y1", r).attr("y2", r)
  .attr("stroke", "#8a8a8a").attr("stroke-width", 1.3));
colEdges.forEach(c => tbl.append("line")
  .attr("x1", c).attr("x2", c).attr("y1", rowEdges[0]).attr("y2", rowEdges[4])
  .attr("stroke", "#8a8a8a").attr("stroke-width", 1.3));
[tableHead].concat(tableRows).forEach((row, ri) => {
  row.forEach((cell, ci) => {
    tbl.append("text")
      .attr("x", (colEdges[ci] + colEdges[ci + 1]) / 2)
      .attr("y", (rowEdges[ri] + rowEdges[ri + 1]) / 2 + 6.5)
      .attr("text-anchor", "middle")
      .attr("font-size", 19)
      .attr("font-weight", ri === 0 ? "bold" : "normal")
      .attr("fill", "#111")
      .text(cell);
  });
});

// legend
const lg = svg.append("g");
lg.append("rect")
  .attr("x", 760).attr("y", 750).attr("width", 152).attr("height", 103)
  .attr("rx", 4).attr("fill", "#fff").attr("fill-opacity", 0.85)
  .attr("stroke", "#d6d6d6").attr("stroke-width", 1);
seriesNames.forEach((name, i) => {
  const cy = 768 + i * 33.5;
  lg.append("circle").attr("cx", 792).attr("cy", cy).attr("r", 3.3)
    .attr("fill", seriesColors[i]).attr("fill-opacity", 0.65);
  lg.append("text").attr("x", 833).attr("y", cy + 8.5)
    .attr("font-size", 24).attr("fill", "#111").text(name);
});
lg.append("line")
  .attr("x1", 769).attr("x2", 815).attr("y1", 833).attr("y2", 833)
  .attr("stroke", "#444").attr("stroke-width", 2).attr("stroke-dasharray", "8,4");
lg.append("text").attr("x", 833).attr("y", 841)
  .attr("font-size", 24).attr("fill", "#111").text("1:1 line");
</script>
</body>
</html>
